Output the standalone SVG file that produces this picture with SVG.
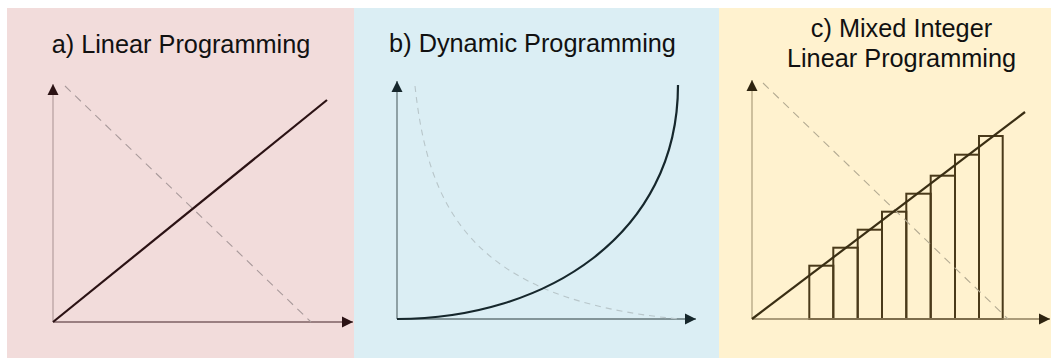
<svg xmlns="http://www.w3.org/2000/svg" width="1051" height="358" viewBox="0 0 1051 358">
<style>
.title{font-family:"Liberation Sans",Arial,sans-serif;font-size:25.3px;fill:#111;text-anchor:middle}
.axis{fill:none;stroke-width:1.3}
.main{fill:none;stroke-width:2.2}
.dash{fill:none;stroke-width:1.1}
.bar{fill:none;stroke:#4a3a1a;stroke-width:2}
</style>
<defs>
<marker id="arrA" markerUnits="userSpaceOnUse" markerWidth="12" markerHeight="12" refX="11" refY="6" orient="auto"><path d="M0,0.5 L11,6 L0,11.5 z" fill="#2b1214"/></marker>
<marker id="arrB" markerUnits="userSpaceOnUse" markerWidth="12" markerHeight="12" refX="11" refY="6" orient="auto"><path d="M0,0.5 L11,6 L0,11.5 z" fill="#16272c"/></marker>
<marker id="arrC" markerUnits="userSpaceOnUse" markerWidth="12" markerHeight="12" refX="11" refY="6" orient="auto"><path d="M0,0.5 L11,6 L0,11.5 z" fill="#2e2410"/></marker>
</defs>

<g id="panel-a">
<rect x="7" y="8" width="347" height="350" fill="#f2dcdb"/>
<text class="title" x="181" y="53">a) Linear Programming</text>
</g>
<g id="panel-b">
<rect x="354" y="8" width="365" height="350" fill="#dbeef4"/>
<text class="title" x="532.5" y="52">b) Dynamic Programming</text>
</g>
<g id="panel-c">
<rect x="719" y="8" width="332" height="350" fill="#fff2cf"/>
<text class="title" x="901.5" y="37">c) Mixed Integer</text>
<text class="title" x="901.5" y="67">Linear Programming</text>
<g id="bars">
<rect class="bar" x="809.3" y="265.7" width="24" height="53.3"/>
<rect class="bar" x="833.3" y="247.7" width="24.4" height="71.3"/>
<rect class="bar" x="857.7" y="229.7" width="24.3" height="89.3"/>
<rect class="bar" x="882" y="211.7" width="24.3" height="107.3"/>
<rect class="bar" x="906.3" y="193.7" width="24.4" height="125.3"/>
<rect class="bar" x="930.7" y="175.7" width="24.3" height="143.3"/>
<rect class="bar" x="955" y="154.7" width="24" height="164.3"/>
<rect class="bar" x="979" y="136" width="23.7" height="183"/>
</g>
</g>

<g id="connectors">
<!-- panel a -->
<line class="axis" x1="53" y1="322" x2="53" y2="84" stroke="#b9a2a3" marker-end="url(#arrA)"/>
<line class="axis" x1="53" y1="322" x2="353" y2="322" stroke="#7d6163" marker-end="url(#arrA)"/>
<line class="dash" x1="65" y1="86" x2="311" y2="322" stroke="#a99a9b" stroke-dasharray="8,6"/>
<line class="main" x1="53" y1="322" x2="327" y2="100" stroke="#2b1214"/>
<!-- panel b -->
<line class="axis" x1="397" y1="319" x2="397" y2="81" stroke="#66777b" marker-end="url(#arrB)"/>
<line class="axis" x1="397" y1="319" x2="696" y2="319" stroke="#66777b" marker-end="url(#arrB)"/>
<path class="dash" d="M415,86 C428,205 468,300 680,319" stroke="#b8c6ca" stroke-dasharray="6,5"/>
<path class="main" d="M397,319 C545,319 678,235 678,85" stroke="#16272c"/>
<!-- panel c -->
<line class="axis" x1="752" y1="319" x2="752" y2="80" stroke="#b3a483" marker-end="url(#arrC)"/>
<line class="axis" x1="752" y1="319" x2="1050" y2="319" stroke="#8f7f5e" marker-end="url(#arrC)"/>
<line class="dash" x1="763" y1="83" x2="1008" y2="319" stroke="#b3aa92" stroke-dasharray="8,6"/>
<line class="main" x1="752" y1="319" x2="1025" y2="112" stroke="#3a2e13"/>
</g>
</svg>
